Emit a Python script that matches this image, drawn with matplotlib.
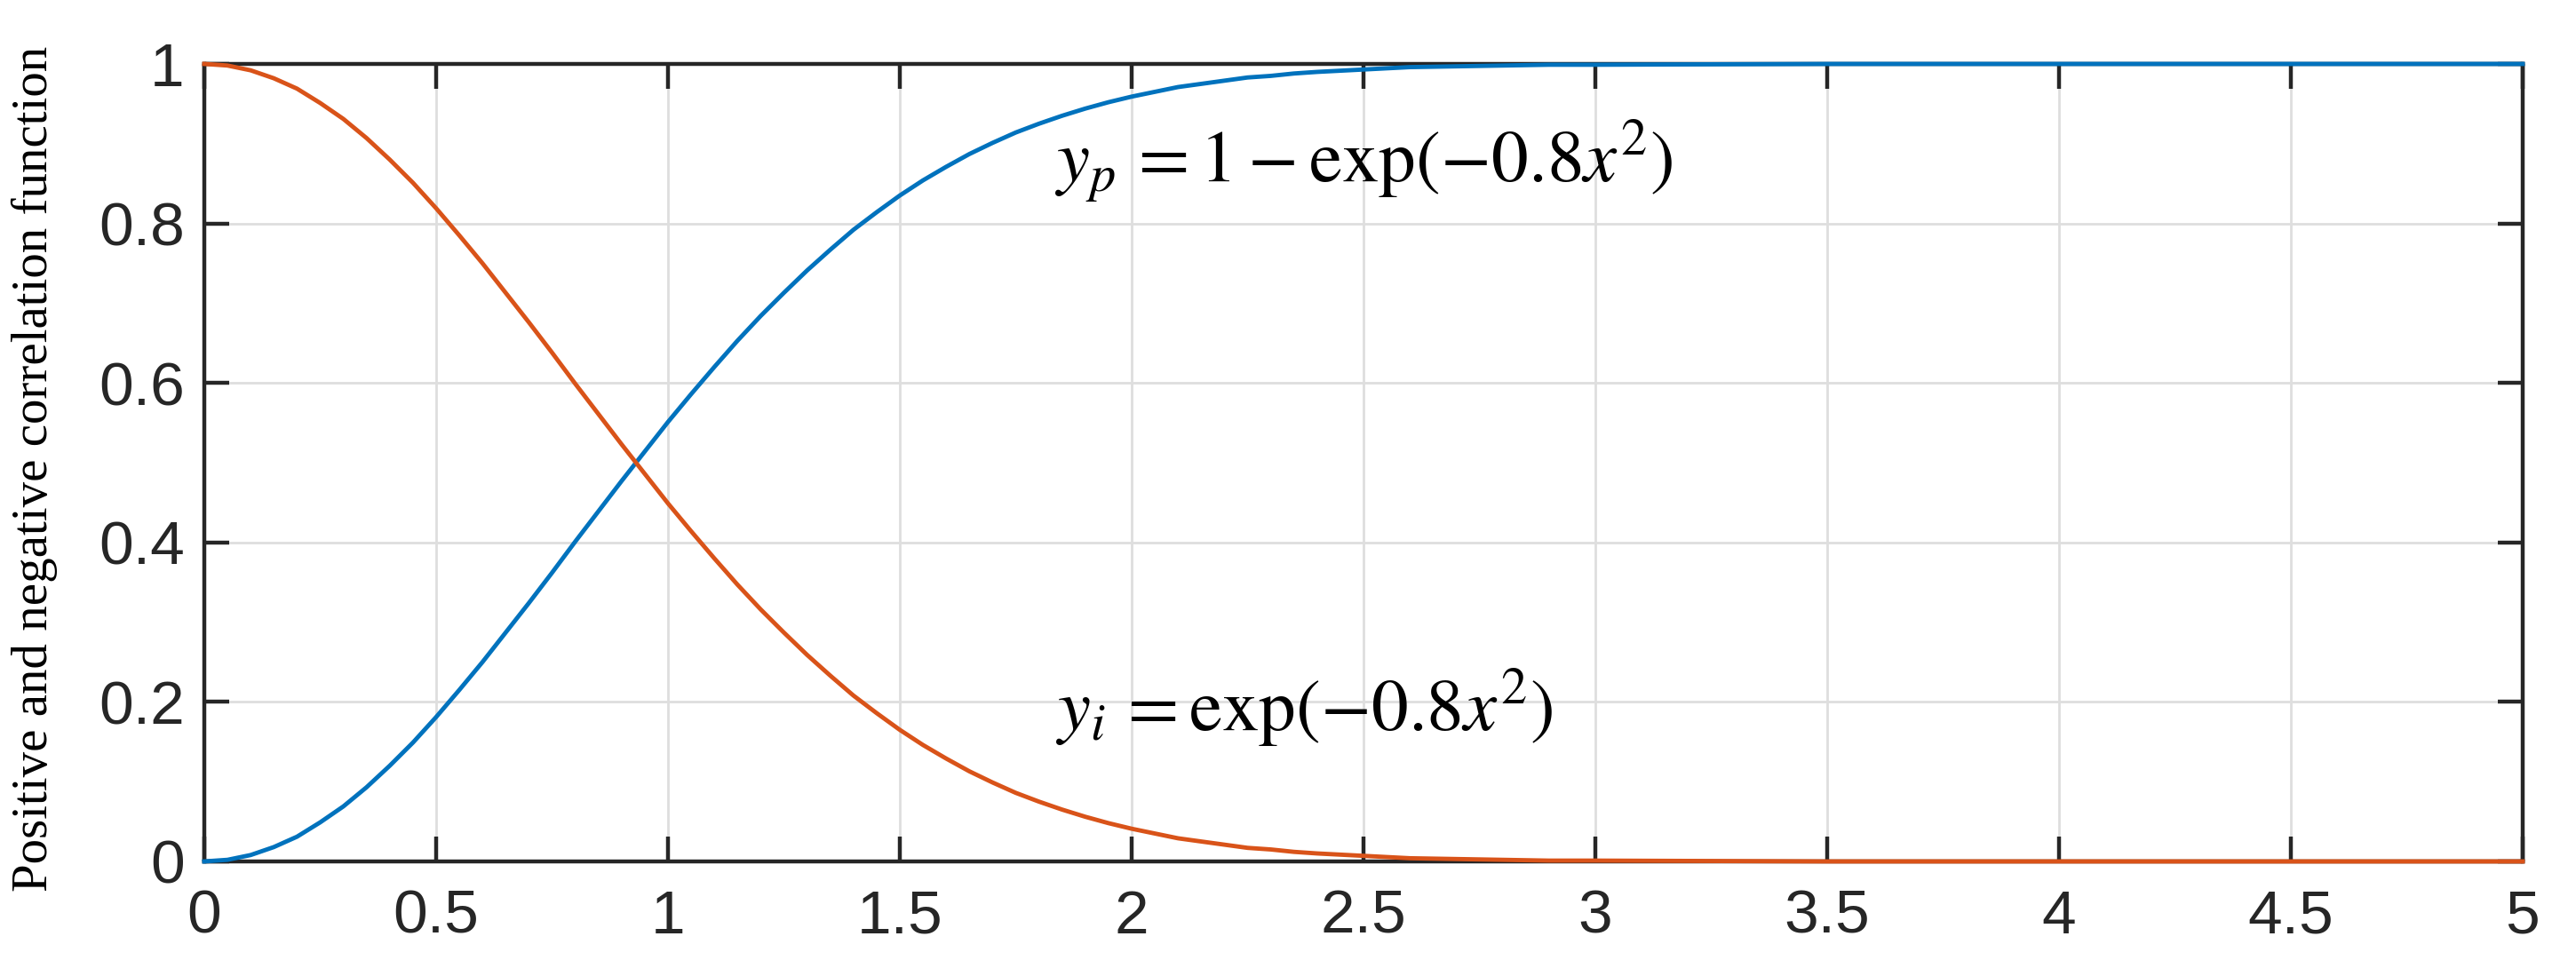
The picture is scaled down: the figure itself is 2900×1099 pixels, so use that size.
import matplotlib
matplotlib.use('Agg')
import matplotlib.pyplot as plt

# values (0.05 steps where the curves bend, coarser after)
x_vals = [0.00, 0.05, 0.10, 0.15, 0.20, 0.25, 0.30, 0.35, 0.40, 0.45,
          0.50, 0.55, 0.60, 0.65, 0.70, 0.75, 0.80, 0.85, 0.90, 0.95,
          1.00, 1.05, 1.10, 1.15, 1.20, 1.25, 1.30, 1.35, 1.40, 1.45,
          1.50, 1.55, 1.60, 1.65, 1.70, 1.75, 1.80, 1.85, 1.90, 1.95,
          2.00, 2.05, 2.10, 2.15, 2.20, 2.25, 2.30, 2.35, 2.40, 2.50,
          2.60, 2.70, 2.80, 2.90, 3.00, 3.50, 4.00, 4.50, 5.00]
y_neg = [1.000, 0.998, 0.992, 0.982, 0.969, 0.951, 0.931, 0.907, 0.880, 0.851,
         0.819, 0.785, 0.750, 0.713, 0.676, 0.638, 0.599, 0.561, 0.523, 0.486,
         0.449, 0.414, 0.380, 0.347, 0.316, 0.287, 0.259, 0.233, 0.208, 0.186,
         0.165, 0.146, 0.129, 0.113, 0.099, 0.086, 0.075, 0.065, 0.056, 0.048,
         0.041, 0.035, 0.029, 0.025, 0.021, 0.017, 0.015, 0.012, 0.010, 0.007,
         0.004, 0.003, 0.002, 0.001, 0.001, 0.000, 0.000, 0.000, 0.000]
y_pos = [0.000, 0.002, 0.008, 0.018, 0.031, 0.049, 0.069, 0.093, 0.120, 0.149,
         0.181, 0.215, 0.250, 0.287, 0.324, 0.362, 0.401, 0.439, 0.477, 0.514,
         0.551, 0.586, 0.620, 0.653, 0.684, 0.713, 0.741, 0.767, 0.792, 0.814,
         0.835, 0.854, 0.871, 0.887, 0.901, 0.914, 0.925, 0.935, 0.944, 0.952,
         0.959, 0.965, 0.971, 0.975, 0.979, 0.983, 0.985, 0.988, 0.990, 0.993,
         0.996, 0.997, 0.998, 0.999, 0.999, 1.000, 1.000, 1.000, 1.000]
x_ticks = [0, 0.5, 1, 1.5, 2, 2.5, 3, 3.5, 4, 4.5, 5]
x_tick_labels = ['0', '0.5', '1', '1.5', '2', '2.5', '3', '3.5', '4', '4.5', '5']
y_ticks = [0, 0.2, 0.4, 0.6, 0.8, 1]
y_tick_labels = ['0', '0.2', '0.4', '0.6', '0.8', '1']

plt.rcParams['mathtext.fontset'] = 'stix'
plt.rcParams['font.family'] = ['Liberation Sans', 'DejaVu Sans']

fig = plt.figure(figsize=(29, 10.99), dpi=100)
ax = fig.add_axes([0.0793, 0.1174, 0.9, 0.8171])

ax.plot(x_vals, y_pos, color='#0072BD', lw=3.5, clip_on=False, zorder=5)
ax.plot(x_vals, y_neg, color='#D95319', lw=3.5, clip_on=False, zorder=5)

ax.set_xlim(0, 5)
ax.set_ylim(0, 1)
ax.set_xticks(x_ticks)
ax.set_xticklabels(x_tick_labels)
ax.set_yticks(y_ticks)
ax.set_yticklabels(y_tick_labels)

ax.grid(True, color='#dedede', lw=2)
ax.set_axisbelow(True)
for s in ax.spines.values():
    s.set_color('#262626')
    s.set_linewidth(3.2)
ax.tick_params(direction='in', length=20, width=3.2, color='#262626',
               top=True, right=True, labelsize=50, labelcolor='#262626')
ax.tick_params(axis='x', pad=22)
ax.tick_params(axis='y', pad=16)

# formulas written on the plot
ax.text(1.833, 0.852, r'$y_p\,=1-\mathrm{exp}(-0.8x^2)$', fontsize=60,
        ha='left', va='baseline', zorder=6)
ax.text(1.835, 0.164, r'$y_i\, = \mathrm{exp}(-0.8x^2)$', fontsize=60,
        ha='left', va='baseline', zorder=6)

fig.text(0.0135, 0.52, 'Positive and negative correlation function',
         family='Liberation Serif', fontsize=41, rotation=90,
         ha='center', va='center')

fig.savefig('out.png', dpi=100)
